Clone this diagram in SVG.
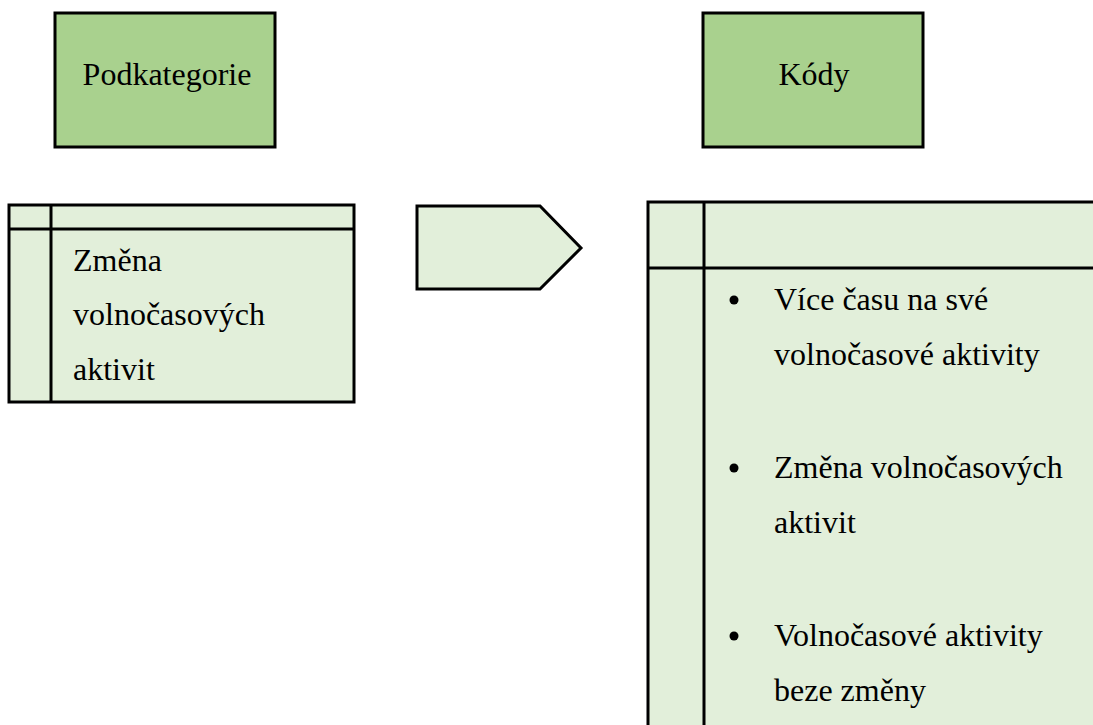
<svg xmlns="http://www.w3.org/2000/svg" width="1093" height="725" viewBox="0 0 1093 725">
<style>
.hdr{fill:#A9D18E;stroke:#000;stroke-width:3}
.tbl{fill:#E2EFDA;stroke:#000;stroke-width:3}
.ln{stroke:#000;stroke-width:3;fill:none}
.t{font-family:'Liberation Serif','Tinos','Times New Roman','DejaVu Serif',serif;font-size:32px;fill:#000}
</style>
<rect width="1093" height="725" fill="#fff"/>
<g id="podkategorie">
<rect class="hdr" x="55" y="13" width="220" height="134"/>
<text class="t" x="167" y="85" text-anchor="middle">Podkategorie</text>
</g>
<g id="kody">
<rect class="hdr" x="703" y="13" width="220" height="134"/>
<text class="t" x="814" y="85" text-anchor="middle">Kódy</text>
</g>
<g id="left-table">
<rect class="tbl" x="9" y="205" width="345" height="197"/>
<line class="ln" x1="9" y1="229" x2="354" y2="229"/>
<line class="ln" x1="51" y1="205" x2="51" y2="402"/>
<text class="t" x="73" y="271">Změna</text>
<text class="t" x="73" y="325">volnočasových</text>
<text class="t" x="73" y="380">aktivit</text>
</g>
<g id="connectors">
<polygon class="tbl" points="417,206 540,206 581,248 540,289 417,289"/>
</g>
<g id="right-table">
<rect class="tbl" x="648" y="202" width="460" height="540"/>
<line class="ln" x1="648" y1="268" x2="1093" y2="268"/>
<line class="ln" x1="704" y1="202" x2="704" y2="725"/>
<circle cx="734" cy="300" r="4.5"/>
<text class="t" x="774" y="310">Více času na své</text>
<text class="t" x="774" y="365">volnočasové aktivity</text>
<circle cx="734" cy="468" r="4.5"/>
<text class="t" x="774" y="478">Změna volnočasových</text>
<text class="t" x="774" y="533">aktivit</text>
<circle cx="734" cy="636" r="4.5"/>
<text class="t" x="774" y="646">Volnočasové aktivity</text>
<text class="t" x="774" y="701">beze změny</text>
</g>
</svg>
